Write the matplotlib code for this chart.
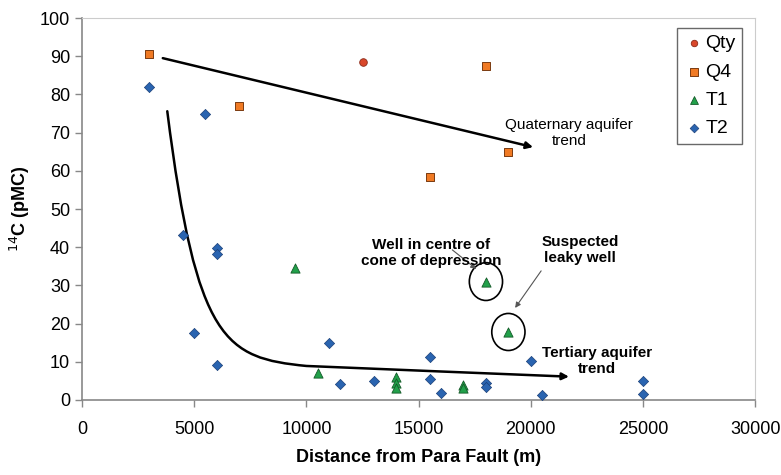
import matplotlib
matplotlib.use("Agg")
import matplotlib.pyplot as plt
from matplotlib.patches import Ellipse, FancyArrowPatch
from matplotlib.path import Path

plt.rcParams['font.family'] = ['Liberation Sans', 'DejaVu Sans']

# data
qty_x = [12500]
qty_y = [88.5]

q4_x = [3000, 7000, 15500, 18000, 19000]
q4_y = [90.5, 77, 58.4, 87.4, 65]

t1_x = [9500, 10500, 14000, 14000, 14000, 17000, 17000, 18000, 19000]
t1_y = [34.6, 7, 6, 4.5, 3, 4, 3.2, 31, 17.7]

t2_x = [3000, 4500, 5000, 5500, 6000, 6000, 6000, 11000, 11500, 13000,
        15500, 15500, 16000, 18000, 18000, 20000, 20500, 25000, 25000]
t2_y = [82, 43.2, 17.5, 75, 39.8, 38.2, 9.2, 14.9, 4.2, 5,
        11.3, 5.5, 1.8, 4.4, 3.5, 10.3, 1.4, 5, 1.6]

# hand-drawn trend lines (bezier control points)
quat_x = [3600, 20100]
quat_y = [89.5, 66.2]
tert_x = [3800, 5100, 6400, 10000, 14000, 18000, 21700]
tert_y = [75.6, 15, 11, 8.9, 7.9, 7.0, 6.1]

fig = plt.figure(figsize=(7.81, 4.75), dpi=100)
ax = fig.add_axes([0.105, 0.158, 0.862, 0.804])
ax.set_xlim(0, 30000)
ax.set_ylim(0, 100)

ax.scatter(qty_x, qty_y, marker='o', s=30, color='#d9472b', edgecolor='#8a2a18', linewidth=0.6, label='Qty', zorder=3)
ax.scatter(q4_x, q4_y, marker='s', s=38, color='#f07a24', edgecolor='#7a3a10', linewidth=0.7, label='Q4', zorder=3)
ax.scatter(t1_x, t1_y, marker='^', s=44, color='#22a04a', edgecolor='#145a28', linewidth=0.6, label='T1', zorder=3)
ax.scatter(t2_x, t2_y, marker='D', s=27, color='#2a64b0', edgecolor='#1a3f78', linewidth=0.5, label='T2', zorder=3)

# quaternary trend arrow
ax.annotate('', xy=(quat_x[1], quat_y[1]), xytext=(quat_x[0], quat_y[0]),
            arrowprops=dict(arrowstyle='-|>', color='black', lw=1.8, mutation_scale=10,
                            shrinkA=0, shrinkB=0))

# tertiary trend: curved arrow
tert_path = Path(list(zip(tert_x, tert_y)),
                 [Path.MOVETO, Path.CURVE4, Path.CURVE4, Path.CURVE4,
                  Path.CURVE4, Path.CURVE4, Path.CURVE4])
ax.add_patch(FancyArrowPatch(path=tert_path, arrowstyle='-|>', color='black', lw=1.8,
                             mutation_scale=10, zorder=2))

# circles around the odd wells
ax.add_patch(Ellipse((18000, 31), 1480, 9.9, fill=False, color='black', lw=1.2))
ax.add_patch(Ellipse((19000, 17.8), 1480, 9.7, fill=False, color='black', lw=1.2))

ax.annotate('', xy=(17570, 34.3), xytext=(16500, 39.3),
            arrowprops=dict(arrowstyle='-|>', color='#555555', lw=0.8, mutation_scale=8,
                            shrinkA=0, shrinkB=0))
ax.annotate('', xy=(19300, 24.1), xytext=(20460, 33.8),
            arrowprops=dict(arrowstyle='-|>', color='#555555', lw=0.8, mutation_scale=8,
                            shrinkA=0, shrinkB=0))

ax.text(21700, 69.9, 'Quaternary aquifer\ntrend', ha='center', va='center', fontsize=11)
ax.text(15560, 38.4, 'Well in centre of\ncone of depression', ha='center', va='center',
        fontsize=11, fontweight='bold')
ax.text(22200, 39.3, 'Suspected\nleaky well', ha='center', va='center',
        fontsize=11, fontweight='bold')
ax.text(22950, 10.2, 'Tertiary aquifer\ntrend', ha='center', va='center',
        fontsize=11, fontweight='bold')

ax.set_xticks(range(0, 30001, 5000))
ax.set_yticks(range(0, 101, 10))
ax.tick_params(axis='both', labelsize=13, color='#888888', length=5, width=1)
ax.tick_params(axis='x', pad=10)

for side in ['left', 'bottom']:
    ax.spines[side].set_color('#888888')
    ax.spines[side].set_linewidth(1.2)
for side in ['top', 'right']:
    ax.spines[side].set_color('#cccccc')

ax.set_xlabel('Distance from Para Fault (m)', fontsize=13, fontweight='bold', labelpad=8)
ax.set_ylabel('$^{14}$C (pMC)', fontsize=13, fontweight='bold', labelpad=6)

leg = ax.legend(loc='upper right', bbox_to_anchor=(0.981, 0.974), fontsize=14,
                frameon=True, fancybox=False, edgecolor='#444444', handletextpad=0.1,
                borderpad=0.35, labelspacing=0.55, handlelength=1.0, markerscale=0.85,
                borderaxespad=0)
leg.get_frame().set_linewidth(1.0)

fig.savefig('out.png', dpi=100)
